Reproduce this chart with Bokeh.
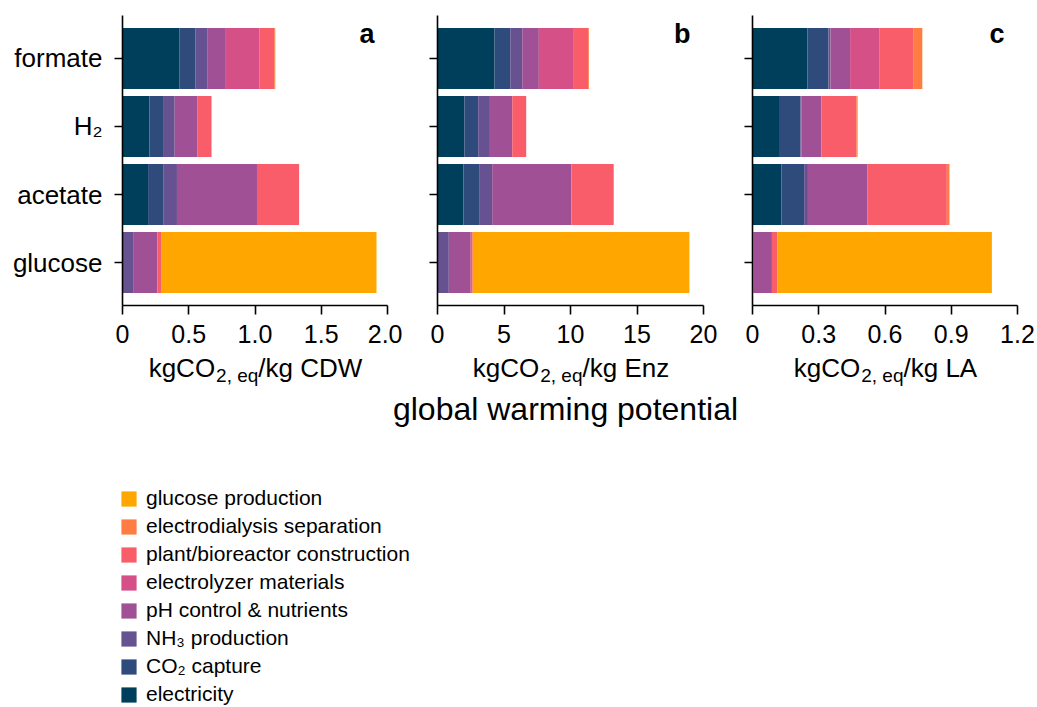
from bokeh.plotting import figure
from bokeh.models import (ColumnDataSource, FactorRange, Range1d, FixedTicker,
                          Label, Legend, LegendItem)
from bokeh.layouts import column, row
from bokeh.embed import file_html
from bokeh.resources import INLINE

# ---------------- data ----------------
categories = ["glucose", "acetate", "H₂", "formate"]          # bottom -> top
components = ["electricity", "CO₂ capture", "NH₃ production",
              "pH control & nutrients", "electrolyzer materials",
              "plant/bioreactor construction", "electrodialysis separation",
              "glucose production"]
colors = ["#003f5c", "#2f4b7c", "#665191", "#a05195", "#d45087",
          "#f95d6a", "#ff7c43", "#ffa600"]

# panel a: kgCO2,eq / kg CDW   (glucose, acetate, H2, formate)
a_electricity = [0.0, 0.193, 0.203, 0.431]
a_co2 = [0.0, 0.118, 0.103, 0.118]
a_nh3 = [0.085, 0.100, 0.088, 0.090]
a_ph = [0.178, 0.604, 0.173, 0.135]
a_electrolyzer = [0.0, 0.0, 0.0, 0.261]
a_plant = [0.028, 0.318, 0.105, 0.110]
a_ed = [0.0, 0.0, 0.0, 0.008]
a_glucose = [1.626, 0.0, 0.0, 0.0]

# panel b: kgCO2,eq / kg Enz
b_electricity = [0.0, 1.95, 2.03, 4.29]
b_co2 = [0.0, 1.18, 1.03, 1.18]
b_nh3 = [0.85, 0.98, 0.88, 0.90]
b_ph = [1.65, 5.96, 1.68, 1.25]
b_electrolyzer = [0.0, 0.0, 0.0, 2.63]
b_plant = [0.15, 3.18, 1.05, 1.08]
b_ed = [0.0, 0.0, 0.0, 0.06]
b_glucose = [16.29, 0.0, 0.0, 0.0]

# panel c: kgCO2,eq / kg LA
c_electricity = [0.0, 0.131, 0.124, 0.249]
c_co2 = [0.0, 0.103, 0.093, 0.095]
c_nh3 = [0.004, 0.017, 0.004, 0.009]
c_ph = [0.084, 0.270, 0.091, 0.089]
c_electrolyzer = [0.0, 0.0, 0.0, 0.134]
c_plant = [0.024, 0.359, 0.158, 0.154]
c_ed = [0.0, 0.012, 0.006, 0.039]
c_glucose = [0.972, 0.0, 0.0, 0.0]

ticks_a = [0, 0.5, 1.0, 1.5, 2.0]
tick_labels_a = ["0", "0.5", "1.0", "1.5", "2.0"]
ticks_b = [0, 5, 10, 15, 20]
tick_labels_b = ["0", "5", "10", "15", "20"]
ticks_c = [0, 0.3, 0.6, 0.9, 1.2]
tick_labels_c = ["0", "0.3", "0.6", "0.9", "1.2"]

units = ["CDW", "Enz", "LA"]
letters = ["a", "b", "c"]
x_title = "global warming potential"

# ---------------- helpers ----------------
FONT = "Liberation Sans"
AW = {'k': .5, 'g': .556, 'C': .722, 'O': .778, '2': .556, ',': .278, ' ': .278,
      'e': .556, 'q': .556, '/': .278, 'D': .722, 'W': .944, 'E': .667,
      'n': .556, 'z': .5, 'L': .556, 'A': .667}
MID = 0.3465   # baseline -> middle of the text box, in em


def text_w(s, size):
    return sum(AW.get(ch, .556) for ch in s) * size


FRAME_H = 290
TOP, BOTTOM = 15, 48
ROW_H = TOP + FRAME_H + BOTTOM
PAD = 0.066
Y_START = -len(categories) * PAD / 2
PPU = FRAME_H / (len(categories) * (1 + PAD))

TITLE_H = 87
PAGE_W, PAGE_H = 1037, 707
LEG_H = PAGE_H - ROW_H - TITLE_H


def make_panel(series, xmax, ticks, tick_labels, letter,
               left_b, frame_w, right_b, show_y):
    p = figure(width=left_b + frame_w + right_b, height=ROW_H,
               y_range=FactorRange(factors=categories, range_padding=PAD),
               x_range=Range1d(0, xmax), output_backend="svg",
               toolbar_location=None, min_border_left=left_b,
               min_border_right=right_b, min_border_top=TOP,
               min_border_bottom=BOTTOM, frame_align=False)
    data = {"cat": categories}
    for name, vals in zip(components, series):
        data[name] = vals
    src = ColumnDataSource(data)
    p.hbar_stack(components, y="cat", height=0.9, color=colors,
                 line_color=None, source=src)

    p.outline_line_color = None
    p.xgrid.visible = False
    p.ygrid.visible = False
    p.background_fill_color = "white"
    p.border_fill_color = "white"

    xa = p.xaxis[0]
    xa.ticker = FixedTicker(ticks=ticks)
    xa.major_label_overrides = {t: l for t, l in zip(ticks, tick_labels)}
    xa.minor_tick_line_color = None
    xa.major_tick_in = 0
    xa.major_tick_out = 9
    xa.major_label_standoff = 10
    xa.axis_line_width = 1.6
    xa.major_tick_line_width = 1.6
    xa.axis_line_color = "black"
    xa.major_tick_line_color = "black"
    xa.major_label_text_font = FONT
    xa.major_label_text_font_size = "25px"
    xa.major_label_text_color = "black"

    ya = p.yaxis[0]
    ya.major_tick_in = 0
    ya.major_tick_out = 8
    ya.axis_line_width = 1.6
    ya.major_tick_line_width = 1.6
    ya.axis_line_color = "black"
    ya.major_tick_line_color = "black"
    ya.major_label_text_font = FONT
    if show_y:
        ya.major_label_standoff = 12
        ya.major_label_text_font_size = "26px"
        ya.major_label_text_color = "black"
    else:
        ya.major_label_standoff = 0
        ya.major_label_text_font_size = "1px"
        ya.major_label_text_color = None

    # panel letter (top right, inside the frame)
    size = 27
    p.add_layout(Label(x=0.951 * xmax, y=Y_START + (262 + MID * size) / PPU,
                       text=letter, text_align="right", text_baseline="middle",
                       text_font=FONT, text_font_style="bold",
                       text_font_size=f"{size}px", text_color="black"))
    return p


series_a = [a_electricity, a_co2, a_nh3, a_ph, a_electrolyzer, a_plant, a_ed, a_glucose]
series_b = [b_electricity, b_co2, b_nh3, b_ph, b_electrolyzer, b_plant, b_ed, b_glucose]
series_c = [c_electricity, c_co2, c_nh3, c_ph, c_electrolyzer, c_plant, c_ed, c_glucose]

geom = [(122, 265, 15), (35, 266, 14), (35, 265, 0)]
geom[2] = (35, 265, PAGE_W - (122 + 265 + 15) - (35 + 266 + 14) - (35 + 265))

p1 = make_panel(series_a, 2.0, ticks_a, tick_labels_a, letters[0], *geom[0], True)
p2 = make_panel(series_b, 20, ticks_b, tick_labels_b, letters[1], *geom[1], False)
p3 = make_panel(series_c, 1.2, ticks_c, tick_labels_c, letters[2], *geom[2], False)

# frame positions (page px) of the three panels
frames = []
x0 = 0
for lb, fw, rb in geom:
    frames.append((x0 + lb, fw))
    x0 += lb + fw + rb

# ---------------- axis titles strip ----------------
pt = figure(width=PAGE_W, height=TITLE_H, x_range=Range1d(0, PAGE_W),
            y_range=Range1d(TITLE_H, 0), output_backend="svg",
            toolbar_location=None, min_border=0, min_border_left=0,
            min_border_right=0, min_border_top=0, min_border_bottom=0,
            frame_align=False)
pt.axis.visible = False
pt.xgrid.visible = False
pt.ygrid.visible = False
pt.outline_line_color = None

T0 = ROW_H          # page y of the strip's top
BASE = 377          # baseline of the unit titles (page px)
for (fl, fw), unit in zip(frames, units):
    s1, s2, s3 = "kgCO", "2, eq", "/kg " + unit
    w1, w2, w3 = text_w(s1, 26), text_w(s2, 19), text_w(s3, 26)
    start = fl + fw / 2 - (w1 + w2 + w3) / 2
    pt.add_layout(Label(x=start + w1, y=BASE - T0 - MID * 26, text=s1,
                        text_align="right", text_baseline="middle",
                        text_font=FONT, text_font_size="26px",
                        text_color="black"))
    pt.add_layout(Label(x=start + w1 + 1, y=BASE + 5 - T0 - MID * 19, text=s2,
                        text_align="left", text_baseline="middle",
                        text_font=FONT, text_font_size="19px",
                        text_color="black"))
    pt.add_layout(Label(x=start + w1 + w2 + 1, y=BASE - T0 - MID * 26, text=s3,
                        text_align="left", text_baseline="middle",
                        text_font=FONT, text_font_size="26px",
                        text_color="black"))

pt.add_layout(Label(x=565, y=420 - T0 - MID * 32, text=x_title,
                    text_align="center", text_baseline="middle",
                    text_font=FONT, text_font_size="32px", text_color="black"))

# ---------------- legend ----------------
pleg = figure(width=PAGE_W, height=LEG_H, x_range=Range1d(0, 1), y_range=Range1d(0, 1),
              output_backend="svg", toolbar_location=None,
              min_border_left=119, min_border_top=46, min_border_right=0,
              min_border_bottom=0, frame_align=False)
pleg.axis.visible = False
pleg.xgrid.visible = False
pleg.ygrid.visible = False
pleg.outline_line_color = None
items = []
for name, col in reversed(list(zip(components, colors))):
    r = pleg.rect(x=[-5], y=[-5], width=0.1, height=0.1, fill_color=col,
                  line_color=None)
    items.append(LegendItem(label=name, renderers=[r]))
legend = Legend(items=items, location="top_left", margin=0, padding=0,
                border_line_color=None, background_fill_alpha=0,
                glyph_width=19, glyph_height=19, label_height=19,
                label_standoff=8, spacing=4,
                label_text_font=FONT, label_text_font_size="21px",
                label_text_color="black")
pleg.add_layout(legend)

layout = column(row(p1, p2, p3), pt, pleg)
open("out.html", "w").write(file_html(layout, INLINE))
